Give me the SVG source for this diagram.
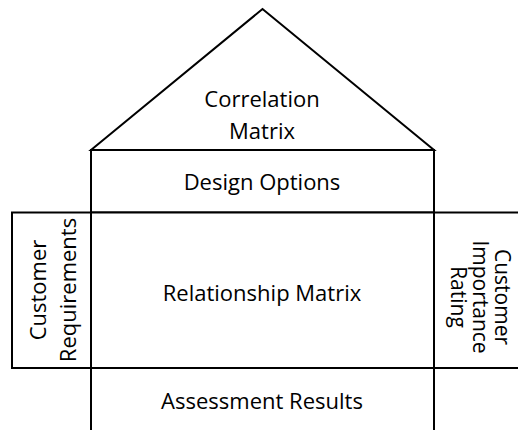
<svg xmlns="http://www.w3.org/2000/svg" width="518" height="430" viewBox="0 0 518 430">
<style>
.s{fill:#fff;stroke:#000;stroke-width:2;stroke-linejoin:miter}
.t{font-family:"Open Sans","Noto Sans",sans-serif;font-size:22px;fill:#000;text-anchor:middle}
.r{font-size:21px}
</style>
<rect width="518" height="430" fill="#fff"/>
<g id="correlation-matrix">
<polygon class="s" points="91,150 262.5,9 434,150"/>
<text class="t" x="262" y="107">Correlation</text>
<text class="t" x="262" y="139">Matrix</text>
</g>
<g id="design-options">
<rect class="s" x="91" y="150" width="343" height="62.5"/>
<text class="t" x="262" y="190">Design Options</text>
</g>
<g id="customer-requirements">
<rect class="s" x="12" y="212.5" width="79" height="155.5"/>
<text class="t" transform="translate(45.5,290) rotate(-90)" x="0" y="0">Customer</text>
<text class="t" transform="translate(75.5,290) rotate(-90)" x="0" y="0">Requirements</text>
</g>
<g id="relationship-matrix">
<rect class="s" x="91" y="212.5" width="343" height="155.5"/>
<text class="t" x="262" y="301">Relationship Matrix</text>
</g>
<g id="customer-importance-rating">
<rect class="s" x="434" y="212.5" width="90" height="155.5"/>
<text class="t r" transform="translate(495,297) rotate(90)" x="0" y="0">Customer</text>
<text class="t r" transform="translate(473,297) rotate(90)" x="0" y="0">Importance</text>
<text class="t r" transform="translate(451,297) rotate(90)" x="0" y="0">Rating</text>
</g>
<g id="assessment-results">
<rect class="s" x="91" y="368" width="343" height="70"/>
<text class="t" x="262" y="409">Assessment Results</text>
</g>
<g id="connectors"></g>
</svg>
